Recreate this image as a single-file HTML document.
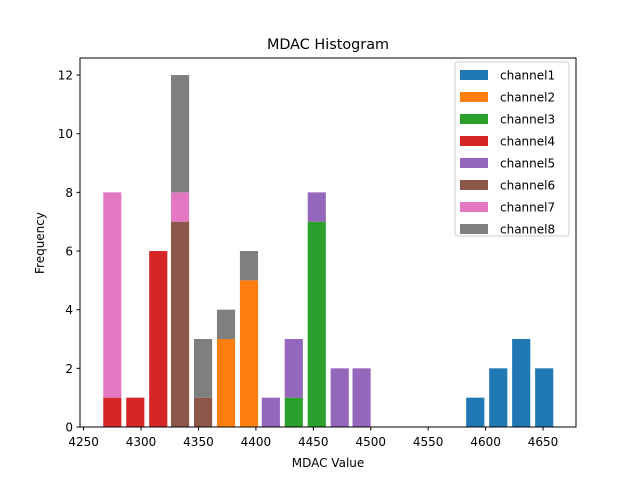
<!DOCTYPE html>
<html><head><meta charset="utf-8"><style>
body{margin:0;background:#fff;}
svg{font-family:"DejaVu Sans","Liberation Sans",sans-serif;}
</style></head><body>
<svg id="chart" width="640" height="480">
<rect x="0" y="0" width="640" height="480" fill="#fff"/>
<text x="328" y="49" font-size="14.4" text-anchor="middle">MDAC Histogram</text>
<g id="bars"></g>
<rect x="80" y="58" width="496" height="369" fill="none" stroke="#000" stroke-width="1"/>
<g id="xticks"></g><g id="yticks"></g>
<text x="328" y="467" font-size="12" text-anchor="middle">MDAC Value</text>
<text x="44" y="243" font-size="12" text-anchor="middle" transform="rotate(-90 44 243)">Frequency</text>
<g id="legend"></g>
</svg>
<script>
const binCenters=[4275,4295,4315,4334,4354,4374,4394,4413,4433,4453,4473,4492,4512,4532,4552,4572,4591,4611,4631,4651];
const seriesNames=["channel1","channel2","channel3","channel4","channel5","channel6","channel7","channel8"];
const ch1=[0,0,0,0,0,0,0,0,0,0,0,0,0,0,0,0,1,2,3,2];
const ch2=[0,0,0,0,0,3,5,0,0,0,0,0,0,0,0,0,0,0,0,0];
const ch3=[0,0,0,0,0,0,0,0,1,7,0,0,0,0,0,0,0,0,0,0];
const ch4=[1,1,6,0,0,0,0,0,0,0,0,0,0,0,0,0,0,0,0,0];
const ch5=[0,0,0,0,0,0,0,1,2,1,2,2,0,0,0,0,0,0,0,0];
const ch6=[0,0,0,7,1,0,0,0,0,0,0,0,0,0,0,0,0,0,0,0];
const ch7=[7,0,0,1,0,0,0,0,0,0,0,0,0,0,0,0,0,0,0,0];
const ch8=[0,0,0,4,2,1,1,0,0,0,0,0,0,0,0,0,0,0,0,0];
const xTicks=[4250,4300,4350,4400,4450,4500,4550,4600,4650];
const yTicks=[0,2,4,6,8,10,12];
const colors=["#1f77b4","#ff7f0e","#2ca02c","#d62728","#9467bd","#8c564b","#e377c2","#7f7f7f"];
const series=[ch1,ch2,ch3,ch4,ch5,ch6,ch7,ch8];
const NS="http://www.w3.org/2000/svg";
const xS=v=>83.6+(v-4250)*1.1486;
const yS=v=>427-v*29.33;
const barW=15.8*1.1486;
function mk(t,a,p){const e=document.createElementNS(NS,t);for(const k in a)e.setAttribute(k,a[k]);p.appendChild(e);return e;}
const bars=document.getElementById('bars');
binCenters.forEach((c,i)=>{let base=0;series.forEach((s,j)=>{if(s[i]>0){
const r=mk('rect',{x:xS(c)-barW/2,y:yS(base+s[i]),width:barW,height:yS(base)-yS(base+s[i]),fill:colors[j]},bars);


base+=s[i];}});});
const xt=document.getElementById('xticks');
xTicks.forEach(v=>{const x=xS(v);mk('line',{x1:x,x2:x,y1:427,y2:430.5,stroke:'#000'},xt);
const t=mk('text',{x:x,y:446,'font-size':12,'text-anchor':'middle'},xt);t.textContent=v;

});
const yt=document.getElementById('yticks');
yTicks.forEach(v=>{const y=yS(v);mk('line',{x1:76.5,x2:80,y1:y,y2:y,stroke:'#000'},yt);
const t=mk('text',{x:73,y:y+4.5,'font-size':12,'text-anchor':'end'},yt);t.textContent=v;

});
const lg=document.getElementById('legend');
mk('rect',{x:455,y:62,width:114,height:174,rx:3,fill:'#fff','fill-opacity':0.8,stroke:'#ccc'},lg);
seriesNames.forEach((n,i)=>{const y=70+i*22;
const p=mk('rect',{x:460,y:y,width:28,height:10,fill:colors[i]},lg);


const t=mk('text',{x:500,y:y+9.5,'font-size':12},lg);t.textContent=n;

});
</script>
</body></html>
